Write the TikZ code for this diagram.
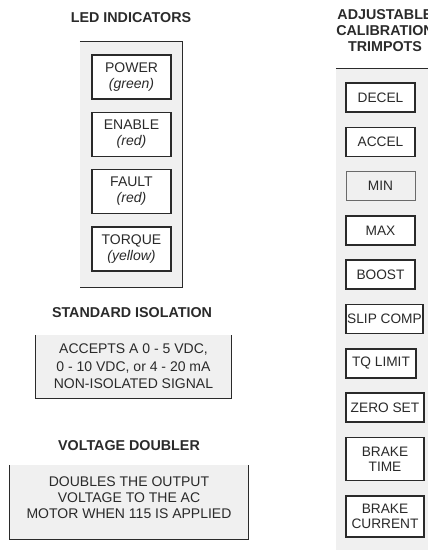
\documentclass[tikz,border=0pt]{standalone}
\usepackage{fontspec}
\setmainfont{Liberation Sans}
\usetikzlibrary{positioning}

\definecolor{panelgray}{HTML}{F0F0F0}
\definecolor{inkgray}{HTML}{2A2A2A}

\begin{document}
\begin{tikzpicture}[
    x=1pt, y=1pt,
    node distance=13.3pt,
    every node/.style={font=\fontsize{14}{16}\selectfont, text=inkgray},
    title/.style={font=\fontsize{14.3}{16}\selectfont\bfseries, align=center},
    panel/.style={rectangle, fill=panelgray, inner sep=0pt},
    rim/.style={draw=inkgray, line width=1.2pt},
    note/.style={align=center, font=\fontsize{14}{15.7}\selectfont},
    ledbox/.style={rectangle, draw=inkgray, fill=white, line width=1.6pt, align=center,
        minimum width=79, minimum height=44, inner sep=1pt, outer sep=0pt},
    trimbox/.style={rectangle, draw=inkgray, fill=white, line width=1.6pt, align=center,
        minimum height=29, inner sep=1pt, outer sep=0pt, font=\fontsize{13.7}{15}\selectfont},
    dimbox/.style={trimbox, fill=panelgray, draw=inkgray!70, line width=1pt}
]
\useasboundingbox (0,0) rectangle (428,-550);
\clip (0,0) rectangle (428,-550);

% Panels
\node[panel, minimum width=102, minimum height=245] (ledpanel) at (131,-164.5) {};
\node[panel, minimum width=195, minimum height=63] (isopanel) at (133.5,-366.5) {};
\node[panel, minimum width=238, minimum height=74] (dblpanel) at (129,-502) {};
\node[panel, minimum width=104, minimum height=491] (trimpanel) at (388,-314.5) {};

\draw[rim] (ledpanel.north west) -- (ledpanel.north east) -- (ledpanel.south east) -- (ledpanel.south west);
\draw[rim] (isopanel.north west) -- (isopanel.south west) -- (isopanel.south east) -- (isopanel.north east);
\draw[rim] (dblpanel.north west) -- (dblpanel.south west) -- (dblpanel.south east) -- (dblpanel.north east);
\draw[rim] (trimpanel.north west) -- (trimpanel.north east);

% Titles
\node[title] (ledtitle) at (131,-18) {LED INDICATORS};
\node[title] (isotitle) at (132,-313) {STANDARD ISOLATION};
\node[title] (dbltitle) at (129,-446) {VOLTAGE DOUBLER};
\node[title] (trimtitle) at (385,-31) {ADJUSTABLE\\CALIBRATION\\TRIMPOTS};

% LED indicators
\node[ledbox] (power) at (131.5,-77) {POWER\\\textit{(green)}};
\node[ledbox, below=of power] (enable) {ENABLE\\\textit{(red)}};
\node[ledbox, below=of enable] (fault) {FAULT\\\textit{(red)}};
\node[ledbox, below=of fault] (torque) {TORQUE\\\textit{(yellow)}};

% Notes
\node[note, font=\fontsize{14}{17.5}\selectfont] (isotext) at (isopanel.center) {ACCEPTS A 0 - 5 VDC,\\0 - 10 VDC, or 4 - 20 mA\\NON-ISOLATED SIGNAL};
\node[note] (dbltext) at ([yshift=4.5pt]dblpanel.center) {DOUBLES THE OUTPUT\\VOLTAGE TO THE AC\\MOTOR WHEN 115 IS APPLIED};

% Trimpots
\node[trimbox, minimum width=69, anchor=north west] (decel) at (346,-83) {DECEL};
\node[trimbox, minimum width=69, below right=15.3pt and 0pt of decel.south west] (accel) {ACCEL};
\node[dimbox, minimum width=69, below right=15.3pt and 0pt of accel.south west] (min) {MIN};
\node[trimbox, minimum width=69, below right=15.3pt and 0pt of min.south west] (max) {MAX};
\node[trimbox, minimum width=69, below right=15.3pt and 0pt of max.south west] (boost) {BOOST};
\node[trimbox, minimum width=77, below right=15.3pt and 0pt of boost.south west] (slip) {SLIP COMP};
\node[trimbox, minimum width=70, below right=15.3pt and 0pt of slip.south west] (tqlimit) {TQ LIMIT};
\node[trimbox, minimum width=78, below right=15.3pt and 0pt of tqlimit.south west] (zeroset) {ZERO SET};
\node[trimbox, minimum width=78, minimum height=43, below right=15.3pt and 0pt of zeroset.south west] (braketime) {BRAKE\\TIME};
\node[trimbox, minimum width=78, minimum height=41, below right=15.3pt and 0pt of braketime.south west] (brakecur) {BRAKE\\CURRENT};

\end{tikzpicture}
\end{document}
